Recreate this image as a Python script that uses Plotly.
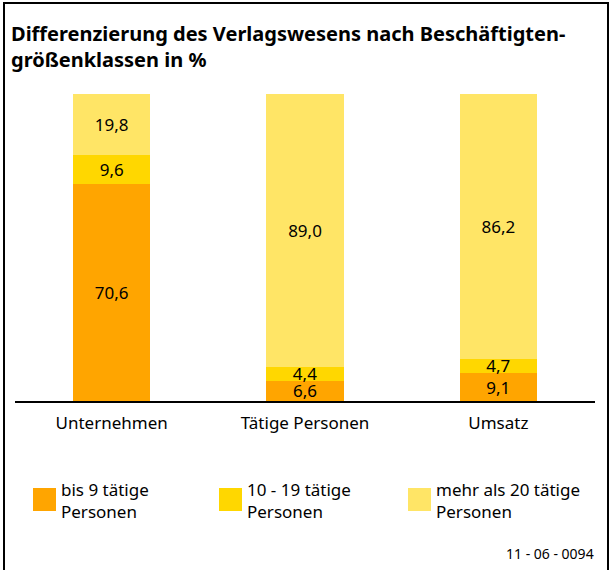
import plotly.graph_objects as go

categories = ["Unternehmen", "Tätige Personen", "Umsatz"]
series_names = ["bis 9 tätige<br>Personen", "10 - 19 tätige<br>Personen", "mehr als 20 tätige<br>Personen"]
small = [70.6, 6.6, 9.1]
medium = [9.6, 4.4, 4.7]
large = [19.8, 89.0, 86.2]
colors = ["#FFA500", "#FFD700", "#FFE566"]
title_text = "Differenzierung des Verlagswesens nach Beschäftigten-<br>größenklassen in %"
source_code = "11 - 06 - 0094"

FONT = "Noto Sans"

def fmt(v):
    return f"{v:.1f}".replace(".", ",")

fig = go.Figure()
for name, vals, col in zip(series_names, [small, medium, large], colors):
    fig.add_trace(go.Bar(
        x=categories, y=vals, name=name,
        marker=dict(color=col, line=dict(width=0)),
        width=0.4,
        text=[fmt(v) for v in vals],
        textposition="inside", insidetextanchor="middle",
        textfont=dict(size=17, color="black", family=FONT),
        showlegend=False,
    ))

W, H = 611, 570
ml, mr, mt, mb = 15, 16, 94, 169
pw = W - ml - mr
ph = H - mt - mb

def px_x(p):
    return (p - ml) / pw

def px_y(p):
    return (H - mb - p) / ph

fig.update_layout(
    width=W, height=H,
    barmode="stack",
    margin=dict(l=ml, r=mr, t=mt, b=mb),
    plot_bgcolor="white", paper_bgcolor="white",
    font=dict(family=FONT, color="black"),
    uniformtext=dict(minsize=17, mode="show"),
    xaxis=dict(
        showline=True, linecolor="black", linewidth=2,
        ticks="outside", ticklen=6, tickcolor="rgba(0,0,0,0)",
        tickfont=dict(size=17, color="black", family=FONT),
        range=[-0.5, 2.5], fixedrange=True,
    ),
    yaxis=dict(visible=False, range=[0, 100], fixedrange=True),
    bargap=0.6,
)

shapes = [dict(type="rect", xref="paper", yref="paper",
               x0=px_x(4), x1=px_x(608), y0=px_y(3), y1=px_y(575),
               line=dict(color="black", width=2), layer="above")]
annotations = [dict(text=f"<b>{title_text}</b>", xref="paper", yref="paper",
                    x=px_x(9), y=px_y(18), xanchor="left", yanchor="top",
                    align="left", showarrow=False,
                    font=dict(size=20, color="black", family=FONT))]

leg_sq_x = [33, 219, 408]
for i, (name, col) in enumerate(zip(series_names, colors)):
    x0 = leg_sq_x[i]
    shapes.append(dict(type="rect", xref="paper", yref="paper",
                       x0=px_x(x0), x1=px_x(x0 + 23), y0=px_y(488), y1=px_y(511),
                       fillcolor=col, line=dict(width=0)))
    annotations.append(dict(text=name, xref="paper", yref="paper",
                            x=px_x(x0 + 26), y=px_y(476), xanchor="left", yanchor="top",
                            align="left", showarrow=False,
                            font=dict(size=17, color="black", family=FONT)))

annotations.append(dict(text=source_code, xref="paper", yref="paper",
                        x=px_x(596), y=px_y(553), xanchor="right", yanchor="middle",
                        showarrow=False, font=dict(size=14, color="black", family=FONT)))

fig.update_layout(shapes=shapes, annotations=annotations)
fig.write_html("out.html",
               config={"displayModeBar": False},
               post_script="document.body.style.margin='0';document.body.style.overflow='hidden';")
